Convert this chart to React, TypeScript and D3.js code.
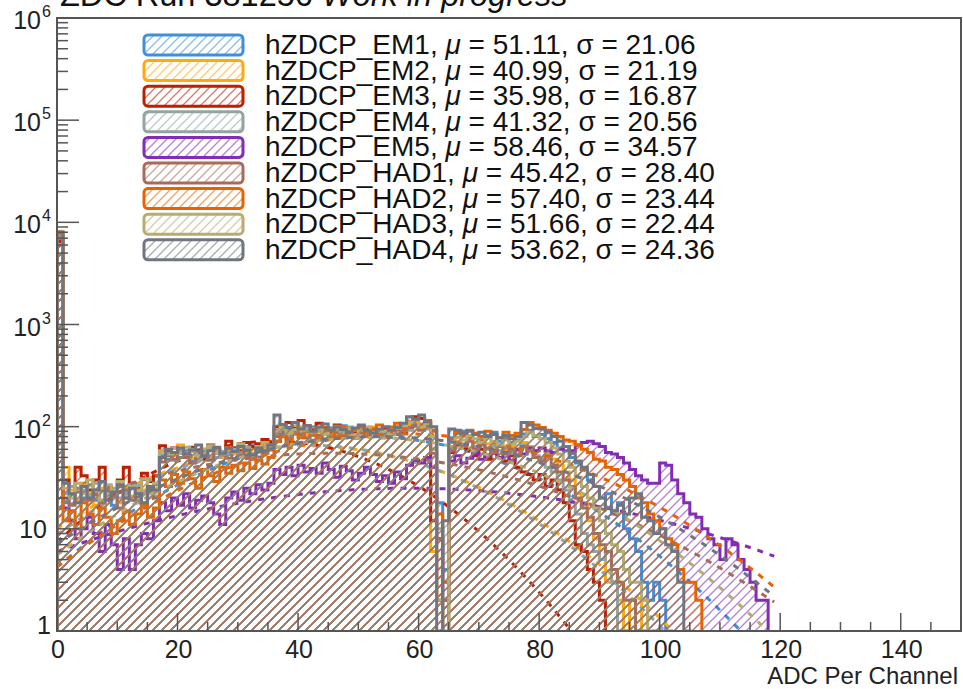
import React from "react";
import * as d3 from "d3";

// ZDC per-channel ADC spectra, one histogram per channel (1 ADC bins, 0..119)
const names = ["hZDCP_EM1", "hZDCP_EM2", "hZDCP_EM3", "hZDCP_EM4", "hZDCP_EM5", "hZDCP_HAD1", "hZDCP_HAD2", "hZDCP_HAD3", "hZDCP_HAD4"];
const colors = ["#3f90da", "#ffa90e", "#bd1f01", "#94a4a2", "#832db6", "#a96b59", "#e76300", "#b9ac70", "#717581"];
const means = ["51.11", "40.99", "35.98", "41.32", "58.46", "45.42", "57.40", "51.66", "53.62"];
const sigmas = ["21.06", "21.19", "16.87", "20.56", "34.57", "28.40", "23.44", "22.44", "24.36"];
// gaussian fit amplitudes
const fitAmps = [80, 65, 72, 66, 25, 55, 85, 78, 80];

const em1 = [
  6800, 18, 22, 25, 20, 27, 19, 24, 21, 17, 23, 20, 26, 18, 22, 24, 27, 52, 48, 55,
  50, 58, 46, 53, 60, 49, 55, 51, 57, 62, 54, 59, 65, 58, 61, 67, 92, 85, 96, 88,
  94, 87, 99, 91, 85, 97, 90, 102, 93, 88, 95, 84, 98, 90, 86, 92, 100, 89, 95, 105,
  98, 110, 92, 18, 4, 78, 86, 90, 80, 84, 76, 82, 88, 72, 79, 70, 74, 85, 92, 80,
  84, 76, 70, 62, 58, 50, 44, 38, 30, 26, 20, 22, 14, 18, 10, 8, 6, 3, 2, 3,
  2, 1, 0, 0, 0, 0, 0, 0, 0, 0, 0, 0, 0, 0, 0, 0, 0, 0, 0, 0,
];
const em2 = [
  8000, 40, 24, 19, 28, 22, 17, 25, 20, 23, 18, 26, 21, 19, 24, 22, 25, 56, 60, 52,
  66, 55, 49, 58, 52, 61, 56, 50, 59, 54, 63, 57, 52, 60, 66, 62, 88, 96, 83, 99,
  90, 84, 95, 88, 98, 86, 92, 84, 97, 89, 93, 87, 99, 85, 94, 90, 96, 88, 104, 112,
  96, 104, 6, 2, 1, 64, 72, 80, 76, 70, 74, 68, 62, 66, 58, 64, 60, 70, 64, 58,
  62, 55, 48, 42, 36, 30, 22, 18, 12, 8, 5, 3, 4, 2, 1, 2, 1, 2, 0, 1,
  0, 0, 0, 0, 0, 0, 0, 0, 0, 0, 0, 0, 0, 0, 0, 0, 0, 0, 0, 0,
];
const em3 = [
  6500, 30, 26, 40, 33, 24, 30, 40, 26, 22, 30, 40, 28, 25, 35, 29, 33, 65, 58, 62,
  57, 54, 63, 59, 48, 66, 60, 55, 72, 62, 58, 70, 64, 68, 75, 71, 100, 88, 110, 96,
  115, 102, 93, 108, 97, 90, 104, 98, 92, 86, 100, 95, 88, 84, 97, 90, 94, 86, 110, 125,
  120, 100, 12, 2, 0, 56, 66, 62, 58, 52, 60, 48, 55, 50, 46, 52, 40, 36, 34, 30,
  34, 26, 30, 24, 18, 12, 7, 6, 4, 3, 2, 0, 0, 0, 0, 0, 0, 0, 0, 0,
  0, 0, 0, 0, 0, 0, 0, 0, 0, 0, 0, 0, 0, 0, 0, 0, 0, 0, 0, 0,
];
const em4 = [
  7500, 22, 26, 18, 24, 21, 28, 19, 23, 25, 20, 22, 27, 18, 23, 26, 21, 50, 55, 47,
  58, 52, 60, 48, 55, 62, 50, 57, 53, 60, 56, 63, 51, 58, 64, 60, 85, 92, 80, 90,
  86, 95, 82, 91, 88, 80, 94, 86, 99, 83, 90, 85, 96, 88, 82, 93, 87, 98, 92, 100,
  106, 95, 60, 10, 3, 62, 70, 66, 74, 64, 68, 60, 65, 58, 62, 55, 58, 66, 60, 52,
  48, 40, 36, 30, 24, 18, 14, 9, 7, 6, 5, 6, 3, 1, 1, 0, 0, 0, 0, 0,
  0, 0, 0, 0, 0, 0, 0, 0, 0, 0, 0, 0, 0, 0, 0, 0, 0, 0, 0, 0,
];
const em5 = [
  6000, 16, 12, 8, 10, 13, 9, 6, 11, 7, 4, 8, 4, 7, 9, 8, 12, 18, 15, 20,
  17, 22, 16, 19, 21, 18, 14, 11, 20, 23, 19, 25, 22, 27, 24, 28, 38, 34, 40, 33,
  42, 36, 39, 35, 44, 38, 32, 41, 37, 30, 35, 40, 34, 29, 33, 28, 36, 31, 42, 47,
  44, 50, 40, 8, 2, 46, 52, 44, 49, 55, 48, 53, 58, 50, 56, 47, 60, 54, 62, 58,
  62, 58, 56, 60, 64, 58, 66, 70, 72, 68, 64, 56, 54, 50, 44, 38, 33, 30, 28, 28,
  44, 42, 30, 22, 18, 14, 13, 10, 8, 7, 5, 8, 7, 5, 4, 3, 2, 2, 0, 0,
];
const had1 = [
  7000, 20, 17, 23, 26, 19, 22, 18, 25, 21, 16, 24, 19, 22, 17, 25, 20, 45, 52, 48,
  55, 50, 44, 57, 51, 47, 60, 53, 49, 56, 52, 58, 48, 62, 55, 59, 80, 88, 76, 92,
  84, 78, 90, 82, 95, 79, 87, 81, 92, 77, 86, 80, 91, 83, 78, 89, 84, 93, 98, 102,
  92, 100, 55, 8, 2, 58, 68, 64, 72, 60, 66, 62, 56, 64, 54, 60, 52, 64, 58, 50,
  46, 52, 42, 36, 30, 26, 20, 16, 13, 9, 7, 6, 4, 3, 2, 2, 1, 1, 0, 0,
  0, 0, 0, 0, 0, 0, 0, 0, 0, 0, 0, 0, 0, 0, 0, 0, 0, 0, 0, 0,
];
const had2 = [
  7800, 12, 15, 10, 18, 14, 11, 16, 13, 9, 12, 15, 11, 14, 17, 13, 16, 30, 26, 34,
  28, 36, 31, 25, 38, 33, 29, 40, 35, 42, 37, 44, 39, 47, 43, 50, 72, 80, 68, 85,
  78, 90, 83, 76, 88, 94, 81, 98, 86, 92, 100, 89, 95, 104, 91, 99, 108, 96, 112, 118,
  104, 115, 90, 14, 3, 76, 88, 82, 92, 86, 80, 90, 84, 78, 88, 82, 86, 94, 110, 104,
  98, 92, 86, 80, 74, 72, 66, 60, 56, 48, 46, 40, 38, 34, 30, 26, 20, 18, 14, 12,
  10, 8, 7, 4, 3, 3, 2, 0, 0, 0, 0, 0, 0, 0, 0, 0, 0, 0, 0, 0,
];
const had3 = [
  8200, 25, 20, 28, 22, 30, 24, 19, 27, 23, 29, 21, 26, 24, 31, 22, 28, 58, 54, 61,
  55, 63, 57, 52, 60, 65, 58, 54, 62, 56, 68, 60, 55, 64, 70, 62, 90, 98, 86, 94,
  100, 92, 88, 97, 85, 93, 101, 89, 95, 84, 92, 99, 87, 94, 90, 83, 96, 102, 110, 115,
  100, 108, 80, 2, 0, 70, 78, 74, 82, 76, 70, 78, 72, 66, 74, 68, 72, 80, 88, 82,
  76, 70, 62, 54, 46, 40, 32, 26, 20, 16, 12, 9, 7, 6, 4, 3, 3, 2, 1, 1,
  1, 0, 0, 0, 0, 0, 0, 0, 0, 0, 0, 0, 0, 0, 0, 0, 0, 0, 0, 0,
];
const had4 = [
  8000, 28, 22, 18, 26, 20, 24, 29, 19, 23, 27, 20, 25, 22, 18, 26, 24, 50, 60, 56,
  62, 54, 59, 66, 52, 58, 63, 55, 61, 57, 64, 59, 53, 62, 58, 66, 130, 105, 98, 110,
  95, 102, 90, 99, 106, 92, 100, 94, 88, 97, 104, 91, 86, 95, 100, 92, 98, 108, 125, 118,
  130, 112, 100, 1, 12, 95, 92, 86, 90, 84, 88, 80, 85, 78, 82, 76, 80, 110, 104, 96,
  95, 88, 80, 72, 64, 55, 46, 40, 34, 26, 20, 16, 15, 17, 14, 20, 22, 13, 12, 9,
  10, 7, 6, 3, 1, 0, 0, 0, 0, 0, 0, 0, 0, 0, 0, 0, 0, 0, 0, 0,
];
const counts = [em1, em2, em3, em4, em5, had1, had2, had3, had4];

const xTicks = [0, 20, 40, 60, 80, 100, 120, 140];
const yDecades = [1, 10, 100, 1000, 10000, 100000, 1000000];

const W = 963;
const H = 689;
const FONT = "'Liberation Sans', Arial, Helvetica, sans-serif";

export default function App() {
  const left = 57, right = 961, top = 18, bottom = 631;
  const x = d3.scaleLinear().domain([0, 150]).range([left, right]);
  const y = d3.scaleLog().domain([1, 1e6]).range([bottom, top]);
  const yv = (v: number) => (v > 0 ? y(v) : bottom + 10);

  // step outline of a histogram
  const histPath = (vals: number[]) => {
    const pts: [number, number][] = [[0, 0]];
    vals.forEach((v, i) => {
      pts.push([i, v]);
      pts.push([i + 1, v]);
    });
    pts.push([vals.length, 0]);
    return d3.line<[number, number]>().x((d) => x(d[0])).y((d) => yv(d[1]))(pts) || "";
  };

  const fitPath = (amp: number, mu: number, sg: number) => {
    const xs = d3.range(0, 119.01, 0.25);
    return d3
      .line<number>()
      .x((d) => x(d))
      .y((d) => y(amp * Math.exp(-((d - mu) * (d - mu)) / (2 * sg * sg))))(xs) || "";
  };

  const minorX = d3.range(0, 151, 5).filter((d) => d % 20 !== 0);
  const minorY: number[] = [];
  for (let e = 0; e < 6; e++) for (let k = 2; k <= 9; k++) minorY.push(k * Math.pow(10, e));

  const legTop = 45;
  const legStep = 25.6;

  return (
    <svg width={W} height={H} style={{ position: "fixed", left: 0, top: 0, background: "#fff" }} fontFamily={FONT}>
      <defs>
        <clipPath id="plotClip">
          <rect x={left} y={top} width={right - left} height={bottom - top} />
        </clipPath>
        {colors.map((c, i) => (
          <pattern key={i} id={`hatch${i}`} patternUnits="userSpaceOnUse" width={9} height={9}>
            <path d="M-1,10 L10,-1 M-1,1 L1,-1 M8,10 L10,8" stroke={c} strokeWidth={1.3} strokeOpacity={0.6} />
          </pattern>
        ))}
      </defs>
      <rect width={W} height={H} fill="#fff" />

      {/* title, cut at the top of the picture */}
      <text x={60} y={6} fontSize={32.5} fill="#111">
        ZDC Run 381256 <tspan fontStyle="italic">Work in progress</tspan>
      </text>

      <g clipPath="url(#plotClip)">
        {counts.map((vals, i) => (
          <g key={i}>
            <path d={histPath(vals)} fill={`url(#hatch${i})`} stroke={colors[i]} strokeWidth={3} strokeLinejoin="miter" />
            <path
              d={fitPath(fitAmps[i], +means[i], +sigmas[i])}
              fill="none"
              stroke={colors[i]}
              strokeWidth={3}
              strokeDasharray="6 7"
            />
          </g>
        ))}
      </g>

      {/* frame */}
      <rect x={left} y={top} width={right - left} height={bottom - top} fill="none" stroke="#555" strokeWidth={2} />

      {/* x axis ticks */}
      {xTicks.map((t) => (
        <g key={t}>
          <line x1={x(t)} x2={x(t)} y1={bottom} y2={bottom - 18} stroke="#555" strokeWidth={1.5} />
          <text x={x(t) + 1} y={658} fontSize={25} textAnchor="middle" fill="#222">{t}</text>
        </g>
      ))}
      {minorX.map((t) => (
        <line key={t} x1={x(t)} x2={x(t)} y1={bottom} y2={bottom - 9} stroke="#555" strokeWidth={1.5} />
      ))}
      <text x={958} y={684} fontSize={24} textAnchor="end" fill="#222">ADC Per Channel</text>

      {/* y axis ticks */}
      {yDecades.map((t, i) => (
        <g key={t}>
          <line x1={left} x2={left + 22} y1={y(t)} y2={y(t)} stroke="#555" strokeWidth={1.5} />
          {i === 0 ? (
            <text x={51} y={y(t) + 3} fontSize={25} textAnchor="end" fill="#222">1</text>
          ) : i === 1 ? (
            <text x={47} y={y(t) + 9} fontSize={25} textAnchor="end" fill="#222">10</text>
          ) : (
            <text x={41} y={y(t) + 11} fontSize={25} textAnchor="end" fill="#222">
              10
            </text>
          )}
          {i > 1 && (
            <text x={42} y={y(t) - 1} fontSize={16} fill="#222">{i}</text>
          )}
        </g>
      ))}
      {minorY.map((t) => (
        <line key={t} x1={left} x2={left + 11} y1={y(t)} y2={y(t)} stroke="#555" strokeWidth={1.5} />
      ))}

      {/* legend */}
      {names.map((n, i) => {
        const cy = legTop + i * legStep;
        return (
          <g key={n}>
            <rect x={144} y={cy - 10} width={99} height={20} rx={4} fill={`url(#hatch${i})`} stroke={colors[i]} strokeWidth={3} />
            <text x={265} y={cy + 9} fontSize={28} fill="#111">
              {n}, <tspan fontStyle="italic">μ</tspan> = {means[i]}, σ = {sigmas[i]}
            </text>
          </g>
        );
      })}
    </svg>
  );
}
